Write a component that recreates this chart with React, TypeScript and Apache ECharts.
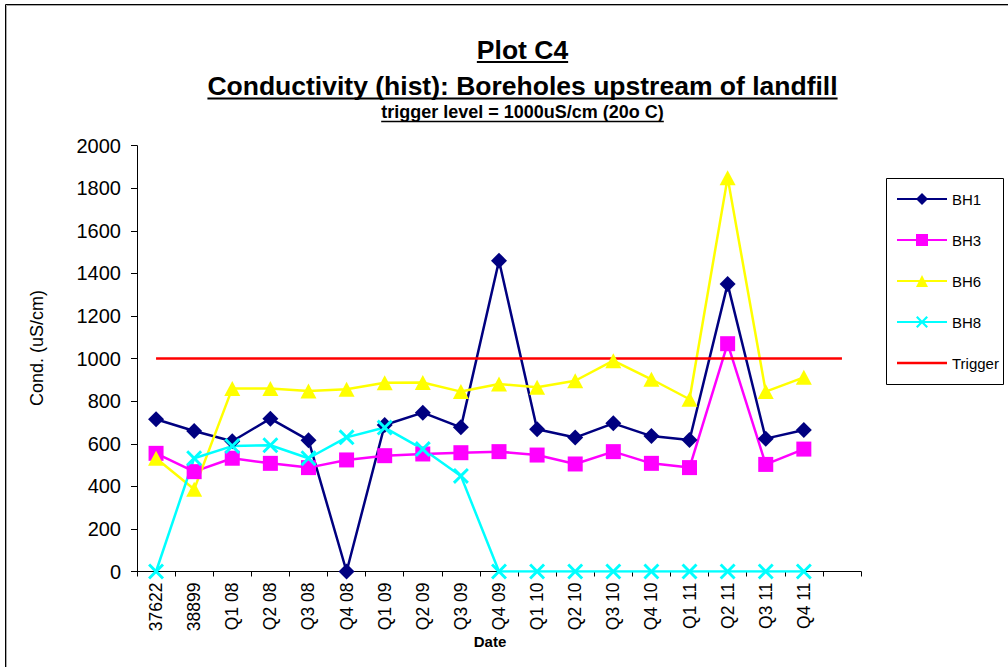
import React, { useEffect, useRef } from "react";
import * as echarts from "echarts";

const categories = ["37622", "38899", "Q1 08", "Q2 08", "Q3 08", "Q4 08", "Q1 09", "Q2 09", "Q3 09", "Q4 09", "Q1 10", "Q2 10", "Q3 10", "Q4 10", "Q1 11", "Q2 11", "Q3 11", "Q4 11", ""];
const bh1 = [715, 660, 612, 718, 617, 0, 688, 746, 677, 1460, 668, 629, 696, 636, 618, 1350, 624, 665];
const bh3 = [555, 469, 532, 508, 488, 524, 544, 552, 558, 563, 547, 505, 563, 508, 488, 1070, 503, 575];
const bh6 = [532, 386, 860, 860, 848, 856, 887, 888, 845, 881, 865, 896, 990, 903, 809, 1850, 845, 912];
const bh8 = [0, 532, 589, 593, 532, 630, 676, 575, 449, 0, 0, 0, 0, 0, 0, 0, 0, 0];
const trigger = [1000, 1000, 1000, 1000, 1000, 1000, 1000, 1000, 1000, 1000, 1000, 1000, 1000, 1000, 1000, 1000, 1000, 1000, 1000];
const yTicks = { min: 0, max: 2000, interval: 200 };

const titleLines = ["Plot C4", "Conductivity (hist): Boreholes upstream of landfill", "trigger level = 1000uS/cm (20o C)"];
const yAxisTitle = "Cond. (uS/cm)";
const xAxisTitle = "Date";

const FONT = '"Liberation Sans", Arial, Helvetica, sans-serif';
const X_PATH = "path://M0,1.3 L1.3,0 L5,3.7 L8.7,0 L10,1.3 L6.3,5 L10,8.7 L8.7,10 L5,6.3 L1.3,10 L0,8.7 L3.7,5 Z";

function measure(text: string, size: number, weight: string) {
  const c = document.createElement("canvas");
  const ctx = c.getContext("2d");
  if (!ctx) return text.length * size * 0.55;
  ctx.font = `${weight} ${size}px "Liberation Sans", Arial, sans-serif`;
  return ctx.measureText(text).width;
}

export default function App() {
  const ref = useRef<HTMLDivElement>(null);
  useEffect(() => {
    if (!ref.current) return;
    const chart = echarts.init(ref.current, null, { renderer: "svg" });
    const cx = 522.5;
    const titleSpec = [
      { text: titleLines[0], size: 26.5, y: 49.5, uy: 62, uw: 2 },
      { text: titleLines[1], size: 26.5, y: 86, uy: 98.5, uw: 2 },
      { text: titleLines[2], size: 18, y: 112, uy: 121.5, uw: 1.5 },
    ];
    const graphics: any[] = [
      { type: "rect", shape: { x: 5.5, y: 4.5, width: 1010, height: 670 }, style: { fill: "none", stroke: "#000", lineWidth: 1 }, silent: true },
      { type: "rect", shape: { x: 6.5, y: 5.5, width: 1010, height: 670 }, style: { fill: "none", stroke: "#aaa", lineWidth: 1 }, silent: true },
      { type: "rect", shape: { x: 886.5, y: 178.5, width: 117, height: 206 }, style: { fill: "#fff", stroke: "#000", lineWidth: 1 }, z: -1, silent: true },
      { type: "text", x: 490, y: 641, style: { text: xAxisTitle, font: `bold 15px ${FONT}`, fill: "#000", textAlign: "center", textVerticalAlign: "middle" } },
      { type: "text", x: 37, y: 348, rotation: Math.PI / 2, style: { text: yAxisTitle, font: `18px ${FONT}`, fill: "#000", textAlign: "center", textVerticalAlign: "middle" } },
    ];
    titleSpec.forEach((t) => {
      const w = measure(t.text, t.size, "bold");
      graphics.push({ type: "text", x: cx, y: t.y, style: { text: t.text, font: `bold ${t.size}px ${FONT}`, fill: "#000", textAlign: "center", textVerticalAlign: "middle" } });
      graphics.push({ type: "line", shape: { x1: cx - w / 2, y1: t.uy, x2: cx + w / 2, y2: t.uy }, style: { stroke: "#000", lineWidth: t.uw } });
    });

    const lineSeries = (name: string, data: number[], color: string, symbol: string, size: any) => ({
      name,
      type: "line",
      data,
      symbol,
      symbolSize: size,
      showSymbol: true,
      lineStyle: { color, width: 2.5 },
      itemStyle: { color, borderWidth: 0 },
      emphasis: { disabled: true },
    });

    chart.setOption({
      animation: false,
      textStyle: { fontFamily: FONT },
      grid: { left: 137, right: 147, top: 145.7, bottom: 95.5, containLabel: false },
      legend: {
        orient: "vertical",
        left: 896,
        top: 191.5,
        padding: 0,
        itemWidth: 50,
        itemHeight: 15,
        itemGap: 26,
        textStyle: { fontSize: 15, color: "#000", fontFamily: FONT },
        data: [
          { name: "BH1" },
          { name: "BH3" },
          { name: "BH6" },
          { name: "BH8" },
          { name: "Trigger", icon: "path://M0,0L100,0L100,5L0,5Z" },
        ],
      },
      xAxis: {
        type: "category",
        data: categories,
        boundaryGap: true,
        axisLine: { lineStyle: { color: "#000", width: 1 } },
        axisTick: { show: true, length: 5, inside: false, lineStyle: { color: "#000" } },
        axisLabel: { rotate: 90, fontSize: 17.5, color: "#000", margin: 11, interval: 0, fontFamily: FONT },
        splitLine: { show: false },
      },
      yAxis: {
        type: "value",
        min: yTicks.min,
        max: yTicks.max,
        interval: yTicks.interval,
        axisLine: { show: true, lineStyle: { color: "#000", width: 1 } },
        axisTick: { show: true, length: 6, lineStyle: { color: "#000" } },
        axisLabel: { fontSize: 20, color: "#000", margin: 16, fontFamily: FONT, formatter: (v: number) => String(v) },
        splitLine: { show: false },
      },
      graphic: graphics,
      series: [
        lineSeries("BH1", bh1, "#000080", "diamond", 16),
        lineSeries("BH3", bh3, "#FF00FF", "rect", 15),
        lineSeries("BH6", bh6, "#FFFF00", "triangle", [16, 15]),
        lineSeries("BH8", bh8, "#00FFFF", X_PATH, 16),
        {
          name: "Trigger",
          type: "line",
          data: trigger,
          symbol: "none",
          showSymbol: false,
          lineStyle: { color: "#FF0000", width: 2.5 },
          itemStyle: { color: "#FF0000" },
          emphasis: { disabled: true },
        },
      ],
    });
    return () => chart.dispose();
  }, []);
  return <div ref={ref} style={{ position: "fixed", left: 0, top: 0, width: 1008, height: 667, background: "#fff" }} />;
}
